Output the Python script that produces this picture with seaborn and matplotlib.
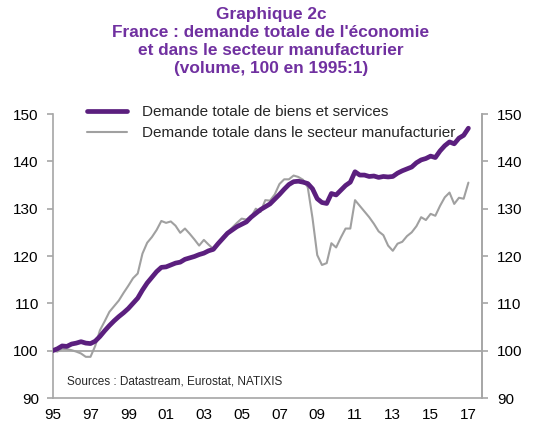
import numpy as np
import pandas as pd
import matplotlib
matplotlib.use("Agg")
import matplotlib.pyplot as plt
from matplotlib.lines import Line2D
import seaborn as sns

# ---------------- data (quarterly, 1995:1 -> 2017:1, index 100 in 1995:1) ----------------
start_year = 1995
total_demand = [
    100.0, 100.4, 101.0, 100.9, 101.4, 101.6, 101.9, 101.6,   # 1995-1996
    101.5, 102.0, 103.0, 104.2, 105.3, 106.3, 107.2, 108.0,   # 1997-1998
    108.9, 110.0, 111.1, 112.8, 114.3, 115.5, 116.7, 117.6,   # 1999-2000
    117.7, 118.1, 118.5, 118.7, 119.3, 119.6, 119.9, 120.3,   # 2001-2002
    120.6, 121.1, 121.4, 122.6, 123.7, 124.8, 125.5, 126.2,   # 2003-2004
    126.7, 127.2, 128.2, 129.0, 129.8, 130.4, 131.0, 132.0,   # 2005-2006
    133.0, 134.1, 135.1, 135.7, 135.8, 135.6, 135.3, 134.2,   # 2007-2008
    132.1, 131.3, 131.1, 133.2, 132.9, 133.9, 134.9, 135.6,   # 2009-2010
    137.8, 137.1, 137.1, 136.8, 136.9, 136.6, 136.8, 136.7,   # 2011-2012
    136.8, 137.5, 138.0, 138.4, 138.8, 139.7, 140.3, 140.6,   # 2013-2014
    141.1, 140.8, 142.2, 143.3, 144.1, 143.7, 144.9, 145.5,   # 2015-2016
    147.0,                                                    # 2017
]
manuf_demand = [
    100.0, 99.8, 100.4, 100.3, 100.1, 99.8, 99.4, 98.7,       # 1995-1996
    98.7, 101.0, 104.3, 106.2, 108.2, 109.4, 110.6, 112.2,    # 1997-1998
    113.7, 115.3, 116.3, 120.5, 122.8, 124.0, 125.5, 127.4,   # 1999-2000
    127.0, 127.3, 126.4, 124.9, 125.8, 124.7, 123.5, 122.2,   # 2001-2002
    123.4, 122.4, 121.5, 122.6, 124.0, 125.0, 126.0, 127.0,   # 2003-2004
    127.9, 127.7, 128.3, 130.0, 129.3, 131.8, 131.7, 133.0,   # 2005-2006
    135.2, 136.2, 136.2, 137.0, 136.7, 136.1, 134.5, 128.0,   # 2007-2008
    120.2, 118.1, 118.5, 122.7, 121.8, 123.9, 125.8, 125.8,   # 2009-2010
    131.8, 130.6, 129.4, 128.2, 126.8, 125.2, 124.4, 122.2,   # 2011-2012
    121.1, 122.6, 123.0, 124.2, 125.0, 126.3, 128.2, 127.6,   # 2013-2014
    128.9, 128.5, 130.6, 132.4, 133.4, 131.0, 132.3, 132.1,   # 2015-2016
    135.5,                                                    # 2017
]
x_tick_years = [1995, 1997, 1999, 2001, 2003, 2005, 2007, 2009, 2011, 2013, 2015, 2017]
x_tick_labels = ["95", "97", "99", "01", "03", "05", "07", "09", "11", "13", "15", "17"]
y_ticks = [90, 100, 110, 120, 130, 140, 150]
label_total = "Demande totale de biens et services"
label_manuf = "Demande totale dans le secteur manufacturier"
title_text = ("Graphique 2c\nFrance : demande totale de l'économie\n"
              "et dans le secteur manufacturier\n(volume, 100 en 1995:1)")
source_text = "Sources : Datastream, Eurostat, NATIXIS"

# ---------------- styling ----------------
sns.set_style("white")
plt.rcParams["font.family"] = ["Liberation Sans", "DejaVu Sans"]

purple = "#5B1F7E"
title_purple = "#7030A0"
grey_line = "#A0A0A0"
axis_grey = "#A6A6A6"

period = start_year + np.arange(len(total_demand)) / 4.0
df = pd.DataFrame({"period": period, "total": total_demand, "manuf": manuf_demand})

fig = plt.figure(figsize=(5.52, 4.30), dpi=100)
ax = fig.add_axes([52.7 / 552, 32 / 430, (482 - 52.7) / 552, (398 - 114) / 430])

ax.axhline(100, color=axis_grey, lw=1.3, zorder=1)
sns.lineplot(data=df, x="period", y="manuf", ax=ax, color=grey_line, lw=1.5, zorder=2)
sns.lineplot(data=df, x="period", y="total", ax=ax, color=purple, lw=3.4, zorder=3)

ax.set_xlim(1995.0, 2017.72)
ax.set_ylim(90, 150)
ax.set_xticks(x_tick_years)
ax.set_xticklabels(x_tick_labels)
ax.set_yticks(y_ticks)
ax.set_xlabel("")
ax.set_ylabel("")

for s in ["left", "bottom", "right"]:
    ax.spines[s].set_visible(True)
    ax.spines[s].set_color(axis_grey)
    ax.spines[s].set_linewidth(1.2)
ax.spines["top"].set_visible(False)
ax.tick_params(axis="both", which="major", direction="out", length=4, width=1.2,
               color=axis_grey, labelsize=11, labelcolor="black")
ax.tick_params(axis="y", pad=6)
ax.tick_params(axis="x", pad=3)

ax2 = ax.twinx()
ax2.set_ylim(90, 150)
ax2.set_yticks(y_ticks)
for s in ["left", "bottom", "top"]:
    ax2.spines[s].set_visible(False)
ax2.spines["right"].set_color(axis_grey)
ax2.spines["right"].set_linewidth(1.2)
ax2.tick_params(axis="y", direction="out", length=4, width=1.2, color=axis_grey,
                labelsize=11, labelcolor="black", pad=7)
ax2.grid(False)
ax.grid(False)

handles = [Line2D([], [], color=purple, lw=3.4), Line2D([], [], color=grey_line, lw=1.5)]
leg = fig.legend(handles, [label_total, label_manuf], loc="upper left",
                 bbox_to_anchor=(87 / 552, 1 - 105 / 430), frameon=False,
                 fontsize=11, handlelength=2.6, handletextpad=1.0,
                 labelspacing=0.45, borderpad=0, borderaxespad=0)

fig.text(67 / 552, 1 - 381 / 430, source_text, fontsize=8.5, va="center", ha="left")
fig.text(271 / 552, 1 - 7 / 430, title_text, fontsize=12.4, fontweight="bold",
         color=title_purple, ha="center", va="top", linespacing=1.24)

fig.savefig("out.png", dpi=100)
